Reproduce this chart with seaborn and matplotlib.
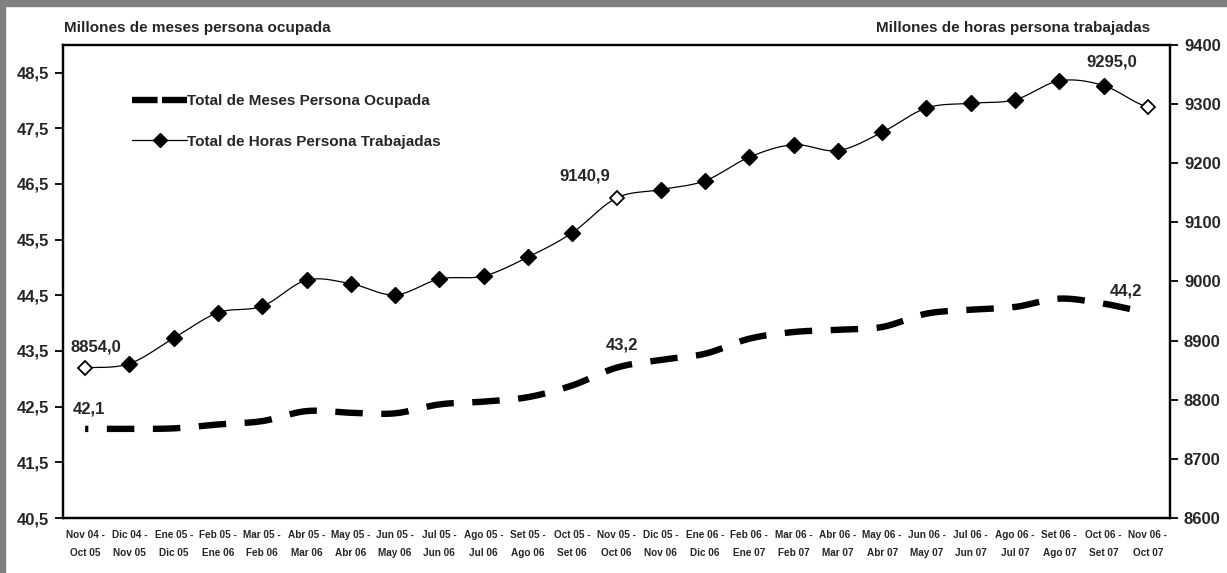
import matplotlib
matplotlib.use('Agg')
import matplotlib.pyplot as plt
import numpy as np
import pandas as pd
import seaborn as sns
from matplotlib.lines import Line2D
from matplotlib.patches import Rectangle
from matplotlib.ticker import FuncFormatter, FixedLocator

# data
periodos = ['Nov 04 -\nOct 05', 'Dic 04 -\nNov 05', 'Ene 05 -\nDic 05', 'Feb 05 -\nEne 06',
            'Mar 05 -\nFeb 06', 'Abr 05 -\nMar 06', 'May 05 -\nAbr 06', 'Jun 05 -\nMay 06',
            'Jul 05 -\nJun 06', 'Ago 05 -\nJul 06', 'Set 05 -\nAgo 06', 'Oct 05 -\nSet 06',
            'Nov 05 -\nOct 06', 'Dic 05 -\nNov 06', 'Ene 06 -\nDic 06', 'Feb 06 -\nEne 07',
            'Mar 06 -\nFeb 07', 'Abr 06 -\nMar 07', 'May 06 -\nAbr 07', 'Jun 06 -\nMay 07',
            'Jul 06 -\nJun 07', 'Ago 06 -\nJul 07', 'Set 06 -\nAgo 07', 'Oct 06 -\nSet 07',
            'Nov 06 -\nOct 07']
meses = [42.1, 42.1, 42.11, 42.18, 42.24, 42.42, 42.39, 42.38, 42.54, 42.59,
         42.67, 42.88, 43.2, 43.34, 43.45, 43.72, 43.84, 43.88, 43.93, 44.17,
         44.24, 44.29, 44.44, 44.35, 44.2]
horas = [8854.0, 8861, 8904, 8947, 8958, 9002, 8996, 8977, 9004, 9009,
         9041, 9082, 9140.9, 9155, 9170, 9210, 9231, 9221, 9252, 9293,
         9301, 9307, 9339, 9331, 9295.0]
etiquetas_meses = {0: '42,1', 12: '43,2', 24: '44,2'}
etiquetas_horas = {0: '8854,0', 12: '9140,9', 24: '9295,0'}


def suavizar(y, n=20):
    # Catmull-Rom smoothing, like Excel's smoothed line
    y = np.asarray(y, dtype=float)
    p = np.concatenate([[y[0]], y, [y[-1]]])
    xs, ys = [], []
    for i in range(len(y) - 1):
        p0, p1, p2, p3 = p[i], p[i + 1], p[i + 2], p[i + 3]
        t = np.linspace(0, 1, n, endpoint=False)
        v = 0.5 * ((2 * p1) + (-p0 + p2) * t + (2 * p0 - 5 * p1 + 4 * p2 - p3) * t ** 2
                   + (-p0 + 3 * p1 - 3 * p2 + p3) * t ** 3)
        xs.extend(i + t)
        ys.extend(v)
    xs.append(len(y) - 1)
    ys.append(y[-1])
    return pd.DataFrame({'x': xs, 'y': ys})


sns.set_style('white')
plt.rcParams['font.family'] = ['Liberation Sans Narrow', 'Liberation Sans', 'DejaVu Sans']

df = pd.DataFrame({'pos': np.arange(len(periodos)), 'meses': meses, 'horas': horas})

fig = plt.figure(figsize=(12.27, 5.73), dpi=100)
ax = fig.add_axes([63 / 1227, 1 - 518 / 573, 1107 / 1227, 473.3 / 573])
ax2 = ax.twinx()

# months line: thick black dashes
sm = suavizar(meses)
sns.lineplot(data=sm, x='x', y='y', ax=ax, color='black', lw=4.6,
             linestyle=(3.8, (4.3, 2.9)), sort=False, legend=False)

# hours line: thin smoothed line with diamonds
sh = suavizar(horas)
sns.lineplot(data=sh, x='x', y='y', ax=ax2, color='black', lw=0.9, sort=False, legend=False)
abiertos = df['pos'].isin(list(etiquetas_horas.keys()))
ax2.plot(df.loc[~abiertos, 'pos'], df.loc[~abiertos, 'horas'], 'D', ms=8,
         mfc='black', mec='black', zorder=5)
ax2.plot(df.loc[abiertos, 'pos'], df.loc[abiertos, 'horas'], 'D', ms=7,
         mfc='white', mec='black', mew=1.3, zorder=5)

ax.set_xlim(-0.5, len(periodos) - 0.5)
ax.set_ylim(40.5, 49.0)
ax2.set_ylim(8600, 9400)

ax.yaxis.set_major_locator(FixedLocator(np.arange(40.5, 49.0, 1.0)))
ax.yaxis.set_major_formatter(FuncFormatter(lambda v, p: f'{v:.1f}'.replace('.', ',')))
ax2.yaxis.set_major_locator(FixedLocator(np.arange(8600, 9401, 100)))
ax2.yaxis.set_major_formatter(FuncFormatter(lambda v, p: f'{v:.0f}'))

ax.set_xticks(df['pos'])
ax.set_xticklabels(periodos, fontsize=7.2, fontweight='bold', linespacing=1.9)
ax.set_xticks(np.arange(-0.5, len(periodos)), minor=True)
ax.tick_params(axis='x', which='major', length=0, pad=9)
ax.tick_params(axis='x', which='minor', length=5, width=1.3, direction='out', color='black')
ax.tick_params(axis='y', length=6, width=1.3, direction='out', color='black',
               labelsize=12, pad=4)
ax2.tick_params(axis='y', length=6, width=1.3, direction='out', color='black',
                labelsize=12, pad=4)
for lab in ax.get_yticklabels() + ax2.get_yticklabels():
    lab.set_fontweight('bold')

for a in (ax, ax2):
    a.set_xlabel('')
    a.set_ylabel('')
    for s in a.spines.values():
        s.set_visible(True)
        s.set_color('black')
        s.set_linewidth(1.6)

# value labels
for i, t in etiquetas_meses.items():
    off = {0: (3, 14), 12: (4, 16), 24: (-16, 15)}[i]
    ax.annotate(t, xy=(i, meses[i]), xytext=off, textcoords='offset points',
                ha='center', va='center', fontsize=12, fontweight='bold')
for i, t in etiquetas_horas.items():
    off = {0: (8, 15), 12: (-23, 16), 24: (-26, 32)}[i]
    ax2.annotate(t, xy=(i, horas[i]), xytext=off, textcoords='offset points',
                 ha='center', va='center', fontsize=12, fontweight='bold')

# legend
h1 = Line2D([], [], color='black', lw=4.6, linestyle=(0, (4.0, 0.7, 10, 0)))
h2 = Line2D([], [], color='black', lw=0.9, marker='D', ms=7, mfc='black')
leg = ax2.legend([h1, h2], ['Total de Meses Persona Ocupada', 'Total de Horas Persona Trabajadas'],
                 loc='upper left', bbox_to_anchor=(0.05, 0.925), frameon=False,
                 handlelength=3.6, handletextpad=0.0, labelspacing=1.75,
                 prop={'size': 11, 'weight': 'bold'})

# axis titles
fig.text(64 / 1227, 1 - 28 / 573, 'Millones de meses persona ocupada', ha='left', va='center',
         fontsize=11, fontweight='bold')
fig.text(1150 / 1227, 1 - 28 / 573, 'Millones de horas persona trabajadas', ha='right',
         va='center', fontsize=11, fontweight='bold')

# grey frame of the original slide
fig.patches.append(Rectangle((0, 1 - 6 / 573), 1, 6 / 573, transform=fig.transFigure,
                             color='#808080', zorder=0))
fig.patches.append(Rectangle((0, 0), 5 / 1227, 1, transform=fig.transFigure,
                             color='#808080', zorder=0))

fig.savefig('out.png', dpi=100)
